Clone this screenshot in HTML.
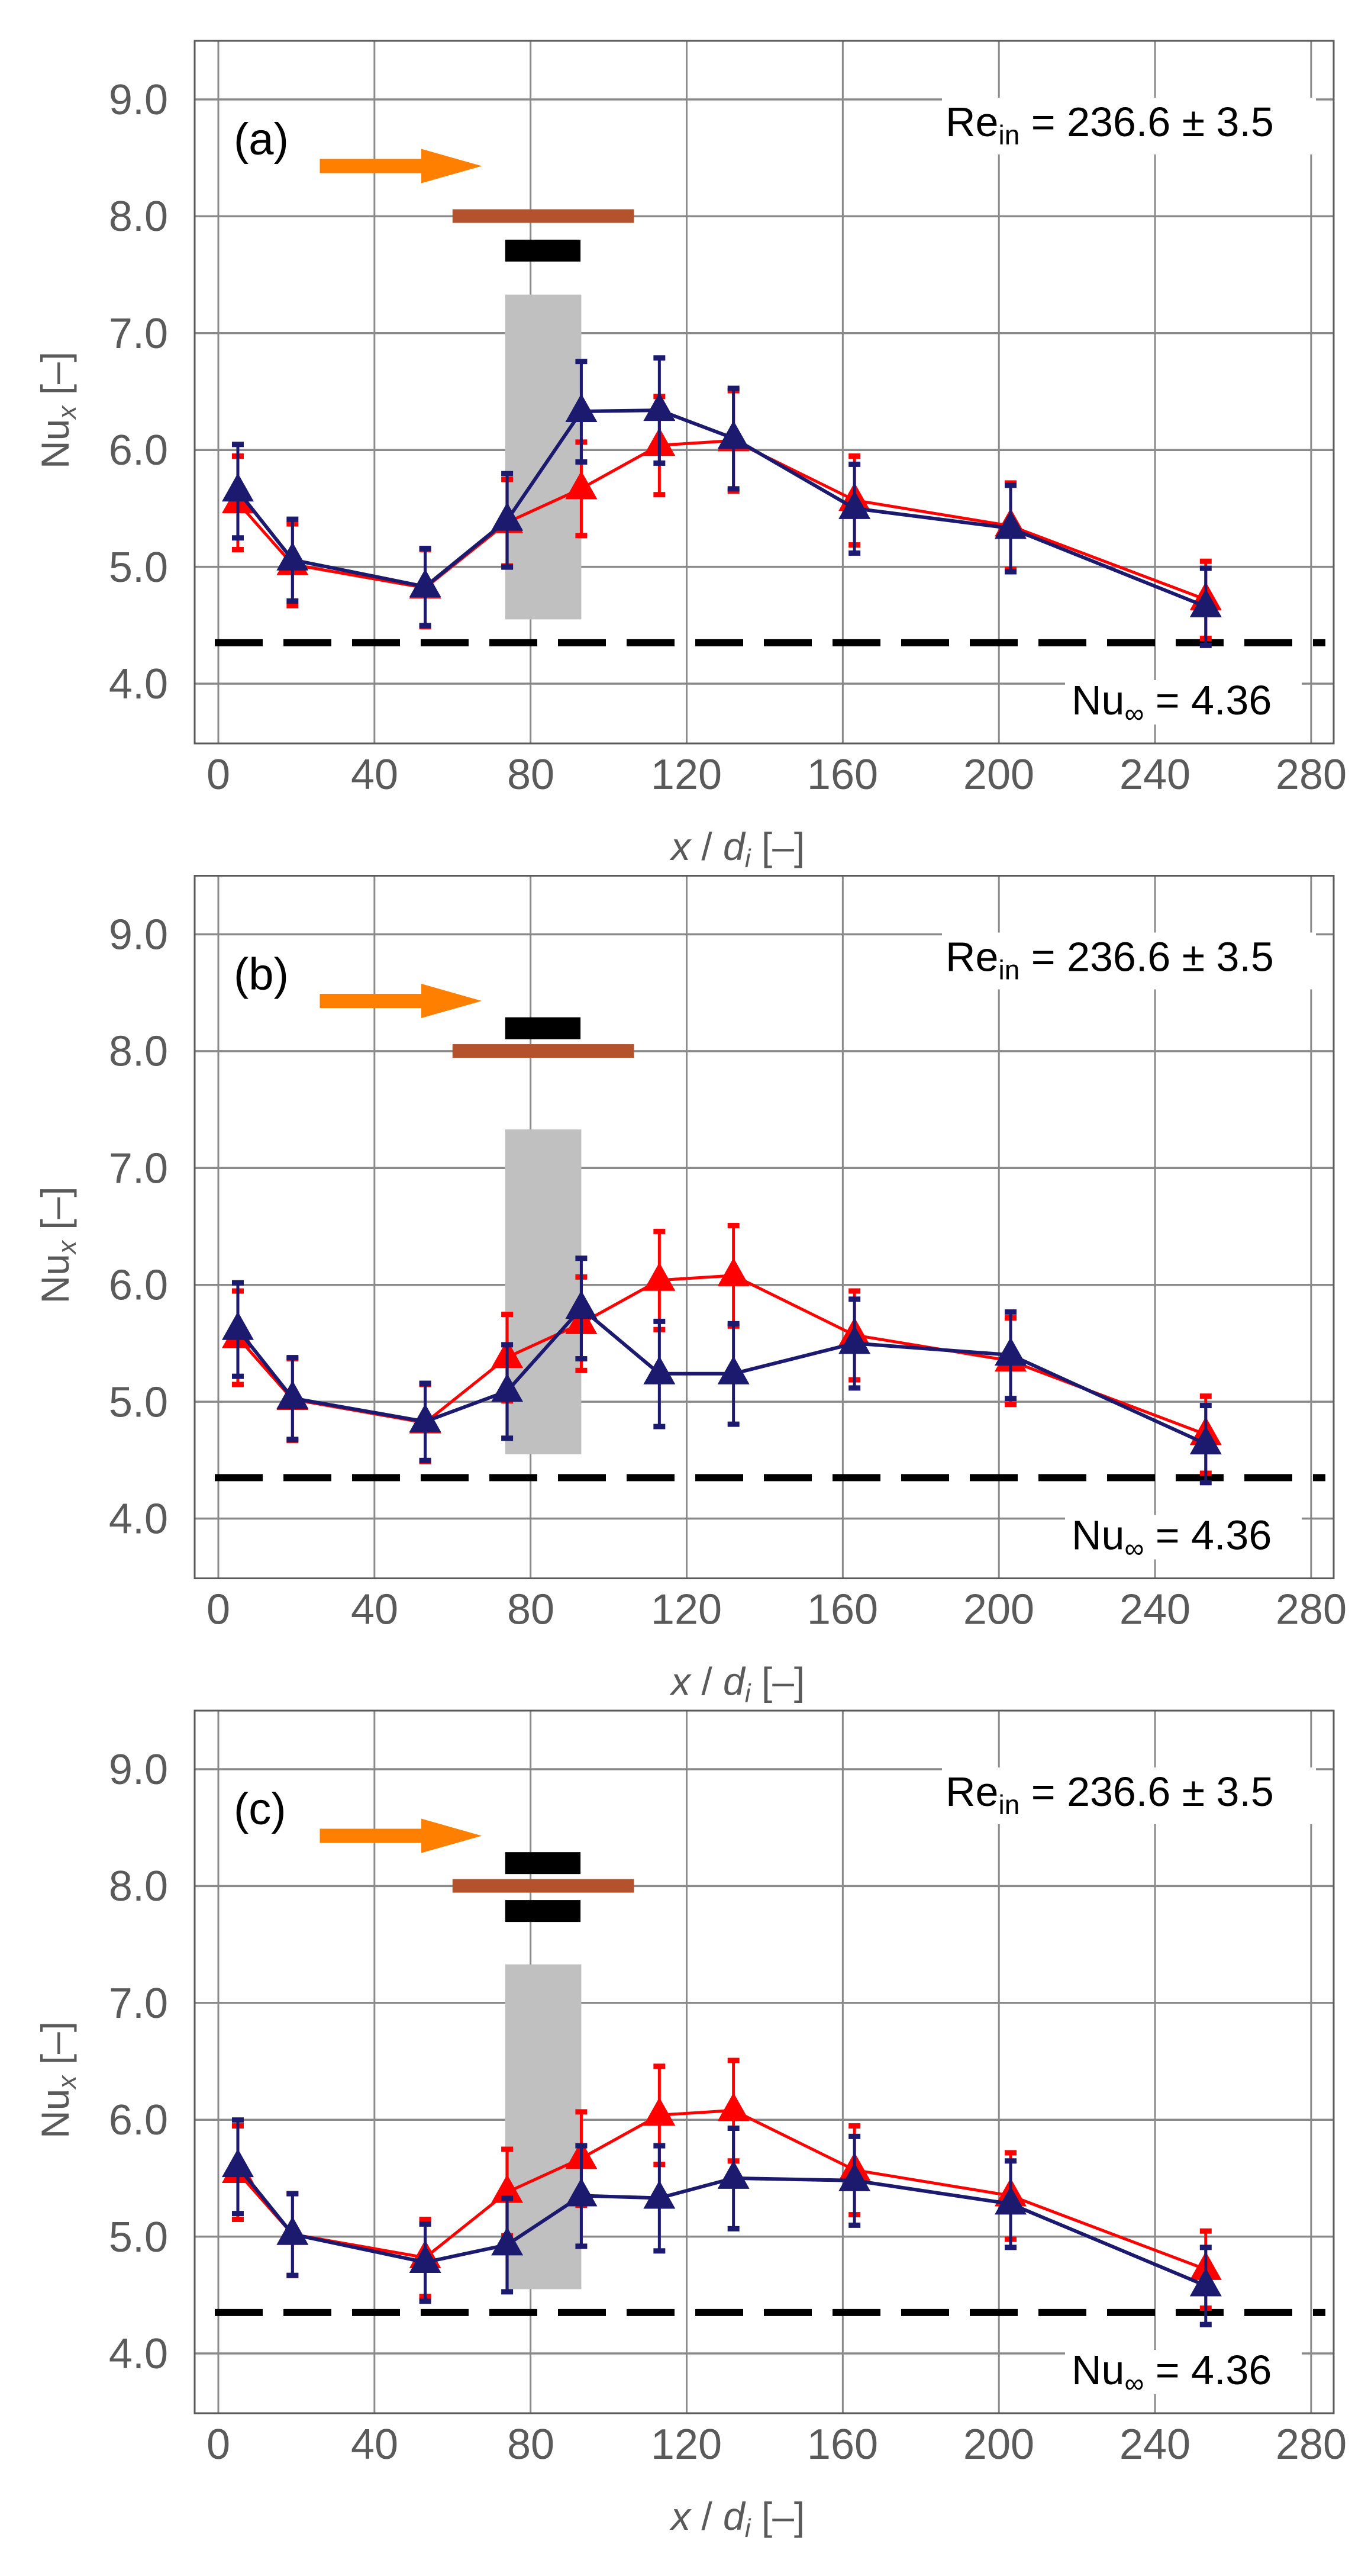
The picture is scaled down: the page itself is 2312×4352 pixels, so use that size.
<!DOCTYPE html>
<html><head><meta charset="utf-8"><style>
html,body{margin:0;padding:0;background:#fff}
svg{display:block}
.tk{font-family:"Liberation Sans",sans-serif;font-size:72px;fill:#5a5a5a}
.lb{font-family:"Liberation Sans",sans-serif;font-size:66px;fill:#5a5a5a}
.bk{font-family:"Liberation Sans",sans-serif;fill:#000}
</style></head><body>
<svg id="s" width="2312" height="4352" viewBox="0 0 2312 4352" xmlns="http://www.w3.org/2000/svg">
<rect width="2312" height="4352" fill="#fff"/>
<g id="geo"></g>
<g id="p0" transform="translate(0,69)">
<text class="tk" x="284" y="124" text-anchor="end">9.0</text>
<text class="tk" x="284" y="321" text-anchor="end">8.0</text>
<text class="tk" x="284" y="519" text-anchor="end">7.0</text>
<text class="tk" x="284" y="716" text-anchor="end">6.0</text>
<text class="tk" x="284" y="914" text-anchor="end">5.0</text>
<text class="tk" x="284" y="1111" text-anchor="end">4.0</text>
<text class="tk" y="1264" text-anchor="middle"><tspan x="369">0</tspan><tspan x="633">40</tspan><tspan x="897">80</tspan><tspan x="1160">120</tspan><tspan x="1424">160</tspan><tspan x="1688">200</tspan><tspan x="1952">240</tspan><tspan x="2216">280</tspan></text>
<text class="lb" x="1134" y="1384"><tspan font-style="italic">x</tspan> / <tspan font-style="italic">d</tspan><tspan font-style="italic" font-size="44" dy="12">i</tspan><tspan dy="-12">   [–]</tspan></text>
<text class="lb" transform="translate(116,723) rotate(-90)">Nu<tspan font-size="44" dy="12" font-style="italic">x</tspan><tspan dy="-12">   [–]</tspan></text>
<rect x="1592" y="96" width="632" height="96" fill="#fff"/>
<text class="bk" x="1598" y="161" font-size="70">Re<tspan font-size="46" dy="14">in</tspan><tspan dy="-14"> = 236.6 ± 3.5</tspan></text>
<rect x="1800" y="1080" width="400" height="75" fill="#fff"/>
<text class="bk" x="1811" y="1138" font-size="70">Nu<tspan font-size="46" dy="14">∞</tspan><tspan dy="-14"> = 4.36</tspan></text>
<text class="bk" x="395" y="192" font-size="76">(a)</text>
</g>
<g id="p1" transform="translate(0,1479.5)">
<text class="tk" x="284" y="124" text-anchor="end">9.0</text>
<text class="tk" x="284" y="321" text-anchor="end">8.0</text>
<text class="tk" x="284" y="519" text-anchor="end">7.0</text>
<text class="tk" x="284" y="716" text-anchor="end">6.0</text>
<text class="tk" x="284" y="914" text-anchor="end">5.0</text>
<text class="tk" x="284" y="1111" text-anchor="end">4.0</text>
<text class="tk" y="1264" text-anchor="middle"><tspan x="369">0</tspan><tspan x="633">40</tspan><tspan x="897">80</tspan><tspan x="1160">120</tspan><tspan x="1424">160</tspan><tspan x="1688">200</tspan><tspan x="1952">240</tspan><tspan x="2216">280</tspan></text>
<text class="lb" x="1134" y="1384"><tspan font-style="italic">x</tspan> / <tspan font-style="italic">d</tspan><tspan font-style="italic" font-size="44" dy="12">i</tspan><tspan dy="-12">   [–]</tspan></text>
<text class="lb" transform="translate(116,723) rotate(-90)">Nu<tspan font-size="44" dy="12" font-style="italic">x</tspan><tspan dy="-12">   [–]</tspan></text>
<rect x="1592" y="96" width="632" height="96" fill="#fff"/>
<text class="bk" x="1598" y="161" font-size="70">Re<tspan font-size="46" dy="14">in</tspan><tspan dy="-14"> = 236.6 ± 3.5</tspan></text>
<rect x="1800" y="1080" width="400" height="75" fill="#fff"/>
<text class="bk" x="1811" y="1138" font-size="70">Nu<tspan font-size="46" dy="14">∞</tspan><tspan dy="-14"> = 4.36</tspan></text>
<text class="bk" x="395" y="192" font-size="76">(b)</text>
</g>
<g id="p2" transform="translate(0,2890)">
<text class="tk" x="284" y="124" text-anchor="end">9.0</text>
<text class="tk" x="284" y="321" text-anchor="end">8.0</text>
<text class="tk" x="284" y="519" text-anchor="end">7.0</text>
<text class="tk" x="284" y="716" text-anchor="end">6.0</text>
<text class="tk" x="284" y="914" text-anchor="end">5.0</text>
<text class="tk" x="284" y="1111" text-anchor="end">4.0</text>
<text class="tk" y="1264" text-anchor="middle"><tspan x="369">0</tspan><tspan x="633">40</tspan><tspan x="897">80</tspan><tspan x="1160">120</tspan><tspan x="1424">160</tspan><tspan x="1688">200</tspan><tspan x="1952">240</tspan><tspan x="2216">280</tspan></text>
<text class="lb" x="1134" y="1384"><tspan font-style="italic">x</tspan> / <tspan font-style="italic">d</tspan><tspan font-style="italic" font-size="44" dy="12">i</tspan><tspan dy="-12">   [–]</tspan></text>
<text class="lb" transform="translate(116,723) rotate(-90)">Nu<tspan font-size="44" dy="12" font-style="italic">x</tspan><tspan dy="-12">   [–]</tspan></text>
<rect x="1592" y="96" width="632" height="96" fill="#fff"/>
<text class="bk" x="1598" y="161" font-size="70">Re<tspan font-size="46" dy="14">in</tspan><tspan dy="-14"> = 236.6 ± 3.5</tspan></text>
<rect x="1800" y="1080" width="400" height="75" fill="#fff"/>
<text class="bk" x="1811" y="1138" font-size="70">Nu<tspan font-size="46" dy="14">∞</tspan><tspan dy="-14"> = 4.36</tspan></text>
<text class="bk" x="395" y="192" font-size="76">(c)</text>
</g>
</svg>
<script>
const NS="http://www.w3.org/2000/svg";
function el(p,tag,a){const e=document.createElementNS(NS,tag);for(const k in a)e.setAttribute(k,a[k]);p.appendChild(e);return e;}
const geo=document.getElementById('geo');
const X=v=>369+6.596*v;
const xs=[5,19,53,74,93,113,132,163,203,253];
const red=[5.55,5.02,4.82,5.38,5.67,6.04,6.08,5.57,5.35,4.72];
const redE=[0.4,0.35,0.33,0.37,0.4,0.42,0.43,0.38,0.37,0.33];
const blues=[[5.65,5.06,4.83,5.40,6.33,6.34,6.10,5.50,5.33,4.66],
[5.62,5.03,4.83,5.09,5.80,5.24,5.24,5.50,5.40,4.64],
[5.60,5.02,4.78,4.93,5.35,5.33,5.50,5.48,5.28,4.58]];
const blueE=[0.4,0.35,0.33,0.4,0.43,0.45,0.43,0.38,0.37,0.33];
[69,1479.5,2890].forEach((T,pi)=>{
  const Y=v=>T+99+(9-v)*197.4;
  const g=el(geo,'g',{});
  for(let v=0;v<=280;v+=40) el(g,'line',{x1:X(v),x2:X(v),y1:T,y2:T+1187,stroke:'#8a8a8a','stroke-width':3});
  for(let v=4;v<=9;v++) el(g,'line',{x1:329,x2:2254,y1:Y(v),y2:Y(v),stroke:'#8a8a8a','stroke-width':3.5});
  el(g,'rect',{x:329,y:T,width:1925,height:1187,fill:'none',stroke:'#5a5a5a','stroke-width':3});
  el(g,'rect',{x:X(73.5),y:Y(7.33),width:X(93)-X(73.5),height:Y(4.55)-Y(7.33),fill:'#c0c0c0'});
  const ay=Y(8.43);
  el(g,'polygon',{points:`${X(26)},${ay-12} ${X(52)},${ay-12} ${X(52)},${ay-29} ${X(67.5)},${ay} ${X(52)},${ay+29} ${X(52)},${ay+12} ${X(26)},${ay+12}`,fill:'#ff8000'});
  el(g,'rect',{x:X(60),y:Y(8.06),width:X(106.5)-X(60),height:23,fill:'#b5522e'});
  if(pi===0||pi===2) el(g,'rect',{x:X(73.5),y:Y(pi===0?7.80:7.88),width:X(92.8)-X(73.5),height:37,fill:'#000'});
  if(pi===1||pi===2) el(g,'rect',{x:X(73.5),y:Y(8.29),width:X(92.8)-X(73.5),height:37,fill:'#000'});
  el(g,'line',{x1:363,x2:2240,y1:Y(4.35),y2:Y(4.35),stroke:'#000','stroke-width':12,'stroke-dasharray':'81 35'});
  function series(ys,es,col,lw){
    el(g,'polyline',{points:xs.map((x,i)=>X(x)+','+Y(ys[i])).join(' '),fill:'none',stroke:col,'stroke-width':lw,'stroke-linejoin':'round'});
    xs.forEach((x,i)=>{
      const cx=X(x),a=Y(ys[i]+es[i]),b=Y(ys[i]-es[i]);
      el(g,'line',{x1:cx,x2:cx,y1:a,y2:b,stroke:col,'stroke-width':5});
      el(g,'rect',{x:cx-10,y:a-4,width:20,height:9,fill:col});
      el(g,'rect',{x:cx-10,y:b-4,width:20,height:9,fill:col});
    });
    xs.forEach((x,i)=>{
      const cx=X(x),cy=Y(ys[i]);
      el(g,'polygon',{points:`${cx},${cy-30} ${cx-27},${cy+18} ${cx+27},${cy+18}`,fill:col});
    });
  }
  series(red,redE,'#ff0000',5);
  series(blues[pi],blueE,'#1c1a6e',6);
});
</script>
</body></html>
